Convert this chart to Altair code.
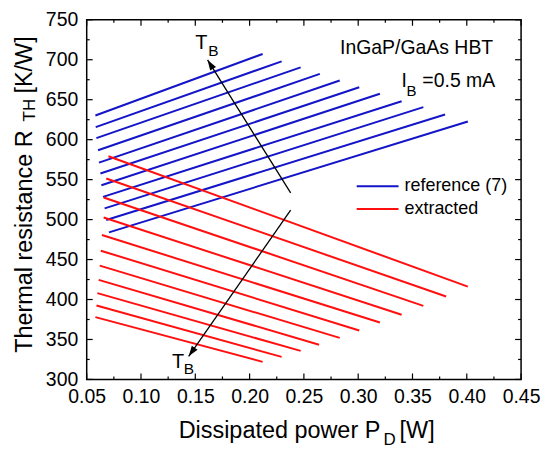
import math
import altair as alt
import pandas as pd

# ---------------- data ----------------
series_names = ["reference (7)", "extracted"]
series_colors = ["#1414C8", "#FF0F0F"]

# reference (7): start / end points of each straight line
ref_p0 = [0.058, 0.0583, 0.0589, 0.0604, 0.0613, 0.0626, 0.0635, 0.065, 0.0665, 0.068, 0.0705]
ref_r0 = [630.3, 615.7, 602.0, 586.7, 571.3, 557.6, 543.0, 528.4, 514.0, 499.4, 484.0]
ref_p1 = [0.212, 0.2295, 0.247, 0.2647, 0.283, 0.301, 0.320, 0.340, 0.360, 0.380, 0.401]
ref_r1 = [707.2, 698.0, 690.5, 682.3, 674.0, 665.6, 657.4, 648.1, 640.7, 631.5, 622.8]

# extracted
ext_p0 = [0.070, 0.068, 0.0656, 0.0656, 0.064, 0.063, 0.062, 0.061, 0.0598, 0.059, 0.058]
ext_r0 = [579.2, 551.4, 527.7, 502.7, 480.7, 461.1, 442.4, 424.6, 408.0, 392.5, 378.0]
ext_p1 = [0.401, 0.381, 0.360, 0.340, 0.320, 0.301, 0.283, 0.264, 0.247, 0.2295, 0.212]
ext_r1 = [416.2, 403.8, 392.1, 381.0, 371.3, 361.3, 352.0, 343.5, 335.7, 328.2, 322.0]

# T_B arrows (start -> tip), data units
arrow_x0 = [0.2378, 0.2378]
arrow_y0 = [533.4, 511.8]
arrow_x1 = [0.1613, 0.1439]
arrow_y1 = [699.8, 329.0]

# axis ticks
x_major = [0.05, 0.10, 0.15, 0.20, 0.25, 0.30, 0.35, 0.40, 0.45]
x_minor = [0.075, 0.125, 0.175, 0.225, 0.275, 0.325, 0.375, 0.425]
y_major = [300, 350, 400, 450, 500, 550, 600, 650, 700, 750]
y_minor = [325, 375, 425, 475, 525, 575, 625, 675, 725]

# ---------------- build tables ----------------
rows = []
for name, p0, r0, p1, r1 in [
    (series_names[0], ref_p0, ref_r0, ref_p1, ref_r1),
    (series_names[1], ext_p0, ext_r0, ext_p1, ext_r1),
]:
    for i in range(len(p0)):
        lid = f"{name}-{i}"
        rows.append({"series": name, "line": lid, "ord": 0, "P": p0[i], "R": r0[i]})
        rows.append({"series": name, "line": lid, "ord": 1, "P": p1[i], "R": r1[i]})
lines_df = pd.DataFrame(rows)

arrows_df = pd.DataFrame({"x0": arrow_x0, "y0": arrow_y0, "x1": arrow_x1, "y1": arrow_y1})

W, H = 436, 361
XD = [0.05, 0.45]
YD = [300, 750]
FONT = "Liberation Sans"

xs = alt.Scale(domain=XD, nice=False, zero=False)
ys = alt.Scale(domain=YD, nice=False, zero=False)

lines = alt.Chart(lines_df).mark_line(strokeWidth=2).encode(
    x=alt.X("P:Q", scale=xs, title=None,
            axis=alt.Axis(values=x_major, format=".2f", labelPadding=8, labelOverlap=False,
                          labelFlush=False,
                          labelFontSize=19.5, labelFont=FONT, labelColor="black")),
    y=alt.Y("R:Q", scale=ys, title=None,
            axis=alt.Axis(values=y_major, format="d", labelPadding=9, labelOverlap=False,
                          labelFlush=False,
                          labelFontSize=19.5, labelFont=FONT, labelColor="black")),
    color=alt.Color("series:N", scale=alt.Scale(domain=series_names, range=series_colors),
                    legend=None),
    detail="line:N",
    order="ord:Q",
)

# inward ticks on all four sides
def xticks(vals, length):
    d = pd.DataFrame({"P": vals})
    b = alt.Chart(d).mark_rule(color="black", strokeWidth=1.2)
    bottom = b.encode(x=alt.X("P:Q", title=None), y=alt.value(H), y2=alt.value(H - length))
    top = b.encode(x=alt.X("P:Q", title=None), y=alt.value(0), y2=alt.value(length))
    return [bottom, top]

def yticks(vals, length):
    d = pd.DataFrame({"R": vals})
    b = alt.Chart(d).mark_rule(color="black", strokeWidth=1.2)
    left = b.encode(y=alt.Y("R:Q", title=None), x=alt.value(0), x2=alt.value(length))
    right = b.encode(y=alt.Y("R:Q", title=None), x=alt.value(W), x2=alt.value(W - length))
    return [left, right]

tick_layers = xticks(x_major, 6) + xticks(x_minor, 3) + yticks(y_major, 6) + yticks(y_minor, 3)

# arrows
arrow_lines = alt.Chart(arrows_df).mark_rule(color="black", strokeWidth=1.3).encode(
    x=alt.X("x0:Q", title=None), y=alt.Y("y0:Q", title=None),
    x2="x1:Q", y2="y1:Q",
)

head_shape = "M0,0L-0.33,1L0.33,1Z"
heads = []
for i in range(len(arrow_x0)):
    dx = (arrow_x1[i] - arrow_x0[i]) * W / (XD[1] - XD[0])
    dy = (arrow_y1[i] - arrow_y0[i]) * H / (YD[1] - YD[0])
    ang = math.degrees(math.atan2(dx, dy)) % 360
    hd = pd.DataFrame({"x1": [arrow_x1[i]], "y1": [arrow_y1[i]]})
    heads.append(
        alt.Chart(hd).mark_point(shape=head_shape, filled=True, color="black", opacity=1,
                                 size=440, angle=round(ang, 1), strokeWidth=0).encode(
            x=alt.X("x1:Q", title=None), y=alt.Y("y1:Q", title=None))
    )

one = alt.Data(values=[{"k": 0}])

def txt(s, x, y, size, align="left", angle=None, baseline="alphabetic"):
    kw = dict(text=s, fontSize=size, font=FONT, color="black", align=align, baseline=baseline)
    if angle is not None:
        kw["angle"] = angle
    return alt.Chart(one).mark_text(**kw).encode(x=alt.value(x), y=alt.value(y))

texts = [
    # x-axis title
    txt("Dissipated power P", 294.7, 419.3, 23.5, align="right"),
    txt("D", 298, 427, 17),
    txt("[W]", 314, 419.3, 23.5),
    # y-axis title (rotated)
    txt("Thermal resistance R", -55.3, 111, 23.5, align="right", angle=270),
    txt("TH", -52, 102, 17, align="left", angle=270),
    txt("[K/W]", -55.3, 74, 23.5, align="left", angle=270),
    # annotations
    txt("InGaP/GaAs HBT", 408, 34.3, 19.5, align="right"),
    txt("I", 316, 67.7, 19.5),
    txt("B", 321, 76, 15),
    txt("=0.5 mA", 410, 67.7, 19.5, align="right"),
    txt("T", 109, 29.3, 20),
    txt("B", 122, 36, 15.5),
    txt("T", 85.5, 349.3, 20),
    txt("B", 97.5, 356, 15.5),
    # legend labels
    txt(series_names[0], 319, 167, 18, baseline="middle"),
    txt(series_names[1], 319, 190, 18, baseline="middle"),
]

legend_lines = [
    alt.Chart(one).mark_rule(color=series_colors[0], strokeWidth=2).encode(
        x=alt.value(271), x2=alt.value(313), y=alt.value(167)),
    alt.Chart(one).mark_rule(color=series_colors[1], strokeWidth=2).encode(
        x=alt.value(271), x2=alt.value(313), y=alt.value(190)),
]

chart = alt.layer(
    lines, *tick_layers, arrow_lines, *heads, *legend_lines, *texts
).properties(
    width=W, height=H,
    background="white",
    autosize=alt.AutoSizeParams(type="none"),
    padding={"left": 79, "top": 11, "right": 21, "bottom": 72},
).configure_view(
    stroke="black", strokeWidth=1.5
).configure_axis(
    ticks=False, domain=False, grid=False,
    labelFont=FONT, labelFontSize=19.5, labelColor="black",
)

chart.save("out.html", embed_options={"renderer": "svg", "actions": False})
